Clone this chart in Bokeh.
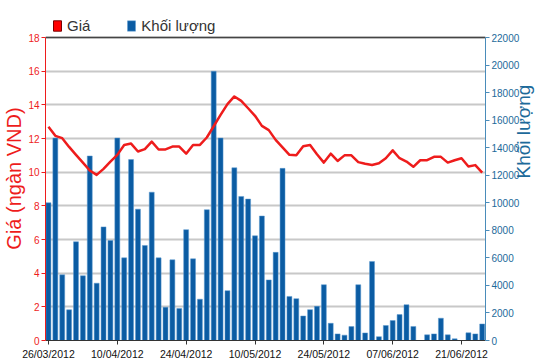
import math
from bokeh.plotting import figure
from bokeh.models import (Range1d, LinearAxis, FixedTicker, SingleIntervalTicker,
                          Legend, LegendItem, ColumnDataSource, BasicTickFormatter, Span)
from bokeh.embed import file_html
from bokeh.resources import INLINE

# ---- data ----
price = [12.7, 12.16, 12.02, 11.5, 11.03, 10.57, 10.1, 9.84, 10.2, 10.63,
         11.03, 11.62, 11.7, 11.23, 11.37, 11.82, 11.35, 11.35, 11.52, 11.52,
         11.1, 11.62, 11.62, 12.06, 12.73, 13.4, 14.04, 14.5, 14.24, 13.8,
         13.35, 12.75, 12.5, 11.92, 11.47, 11.03, 11.0, 11.54, 11.62, 11.07,
         10.57, 11.1, 10.67, 11.0, 11.0, 10.6, 10.5, 10.43, 10.53, 10.83,
         11.3, 10.83, 10.63, 10.32, 10.71, 10.71, 10.91, 10.91, 10.57, 10.71,
         10.83, 10.34, 10.42, 9.98]
volume = [10000, 14700, 4770, 2230, 7170, 4700, 13400, 4160, 8250, 7260,
          14700, 6000, 13140, 9540, 6900, 10770, 6000, 2420, 5860, 2320,
          8050, 5930, 3000, 9500, 19550, 14700, 3620, 12540, 10460, 10270,
          7600, 9040, 4400, 6400, 12500, 3200, 3040, 1780, 2240, 2480,
          4050, 1250, 480, 390, 1010, 4050, 550, 5740, 280, 1090,
          1450, 1880, 2600, 1020, 0, 410, 480, 1620, 410, 120,
          0, 560, 480, 1200]
day_index = list(range(len(price)))
tick_positions = [0, 10, 20, 30, 40, 50, 60]
tick_labels = ["26/03/2012", "10/04/2012", "24/04/2012", "10/05/2012",
               "24/05/2012", "07/06/2012", "21/06/2012"]
price_axis_max = 18
volume_axis_max = 22000

RED = "#ee1c1c"
BAR = "#0b5ca3"
RAXIS = "#4a8cba"
RLABEL = "#1d6a9a"
FONT = "Liberation Sans"

# head-room above the axes' top so that the legend sits inside the frame
HEAD = 1.25
src = ColumnDataSource(dict(x=day_index, price=price, volume=volume))

p = figure(width=550, height=364, output_backend="svg", toolbar_location=None,
           x_range=Range1d(-0.43, 63.48),
           y_range=Range1d(0, price_axis_max + HEAD),
           min_border_left=44, min_border_right=65, min_border_top=16,
           min_border_bottom=24)
p.extra_y_ranges = {"vol": Range1d(0, volume_axis_max * (price_axis_max + HEAD) / price_axis_max)}
p.background_fill_color = "white"
p.border_fill_color = "white"
p.outline_line_color = None

# grid
p.xgrid.visible = False
p.ygrid.ticker = SingleIntervalTicker(interval=2)
p.ygrid.grid_line_color = "#c8c8c8"
p.ygrid.grid_line_width = 2
p.ygrid.bounds = (0, price_axis_max)

# left axis
ly = p.yaxis[0]
ly.ticker = SingleIntervalTicker(interval=2)
ly.bounds = (0, price_axis_max)
ly.axis_line_color = RED
ly.major_tick_line_color = RED
ly.minor_tick_line_color = None
ly.major_tick_out = 4
ly.major_tick_in = 0
ly.major_label_standoff = 2
ly.major_label_text_color = RED
ly.major_label_text_font = FONT
ly.major_label_text_font_size = "10px"
ly.axis_label = "Giá (ngàn VND)"
ly.axis_label_text_color = RED
ly.axis_label_text_font = FONT
ly.axis_label_text_font_style = "normal"
ly.axis_label_text_font_size = "20px"
ly.axis_label_standoff = 0

# right axis
ry = LinearAxis(y_range_name="vol", ticker=SingleIntervalTicker(interval=2000),
                formatter=BasicTickFormatter(use_scientific=False),
                bounds=(0, volume_axis_max))
ry.axis_line_color = RAXIS
ry.major_tick_line_color = RAXIS
ry.minor_tick_line_color = None
ry.major_tick_out = 4
ry.major_tick_in = 0
ry.major_label_standoff = 2
ry.major_label_text_color = RLABEL
ry.major_label_text_font = FONT
ry.major_label_text_font_size = "10px"
ry.axis_label = "Khối lượng"
ry.axis_label_text_color = RLABEL
ry.axis_label_text_font = FONT
ry.axis_label_text_font_style = "normal"
ry.axis_label_text_font_size = "19px"
ry.axis_label_standoff = 1
ry.axis_label_orientation = math.pi / 2
p.add_layout(ry, "right")

# bottom axis
bx = p.xaxis[0]
bx.ticker = FixedTicker(ticks=tick_positions)
bx.major_label_overrides = dict(zip(tick_positions, tick_labels))
bx.axis_line_color = "#333333"
bx.major_tick_line_color = "#333333"
bx.minor_tick_line_color = None
bx.major_tick_out = 4
bx.major_tick_in = 0
bx.major_label_standoff = 3
bx.major_label_text_color = "#111111"
bx.major_label_text_font = FONT
bx.major_label_text_font_size = "10.5px"

# top border line of the plot area
p.add_layout(Span(location=price_axis_max, dimension="width",
                  line_color="#444444", line_width=1.5))

# marks
bars = p.vbar(x="x", top="volume", width=0.72, source=src, y_range_name="vol",
              fill_color=BAR, line_color="#5c9bd1", line_width=0.5)
p.line(x="x", y="price", source=src, line_color=RED, line_width=2.5,
       line_join="round")

# legend key for the price series: zero-size bars (nothing visible on the plot)
price_key = p.vbar(x="x", top=0, width=0, source=src, fill_color="#ff0000",
                   line_color="#7a0000", line_width=1, level="underlay")
legend = Legend(items=[LegendItem(label="Giá", renderers=[price_key]),
                       LegendItem(label="Khối lượng", renderers=[bars])],
                orientation="horizontal", location=(7, 306),
                padding=0, margin=0, spacing=36,
                glyph_width=10, glyph_height=13, label_standoff=5,
                label_height=15,
                label_text_font=FONT, label_text_font_size="15px",
                label_text_color="#333333",
                border_line_color=None, background_fill_alpha=0)
p.add_layout(legend, "center")

open("out.html", "w").write(file_html(p, INLINE))
